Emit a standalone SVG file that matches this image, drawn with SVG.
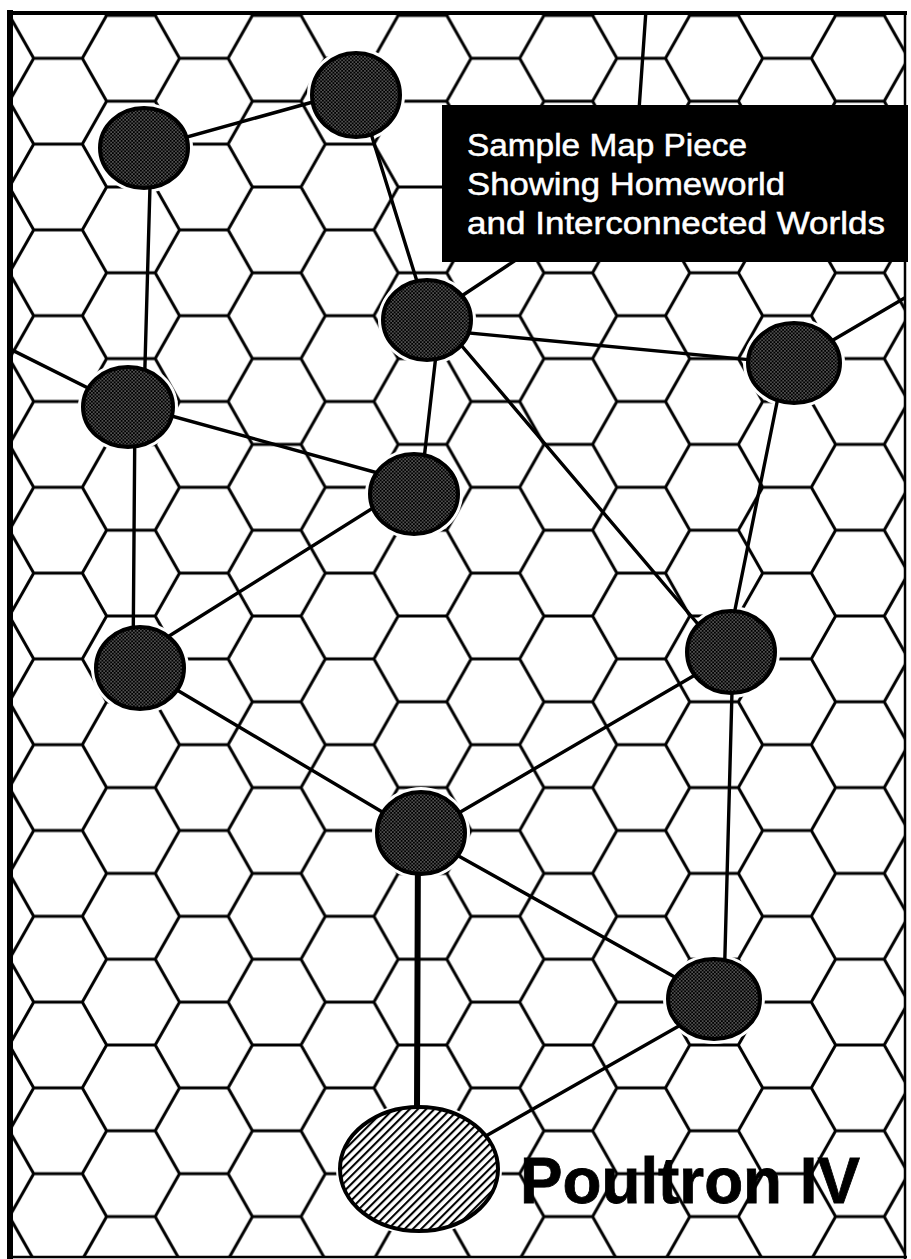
<svg xmlns="http://www.w3.org/2000/svg" width="911" height="1259" viewBox="0 0 911 1259">
<style>
.hex{fill:none;stroke:#000;stroke-width:3;stroke-linecap:round;stroke-linejoin:round}
.halo{fill:#fff;stroke:none}
.con{stroke:#000;stroke-width:3.4;stroke-linecap:round;fill:none}
.thick{stroke-width:6}
.node{fill:url(#stip);stroke:#000;stroke-width:4}
.title{font-family:"Liberation Sans",Arial,sans-serif;font-size:31px;fill:#fff;stroke:#fff;stroke-width:0.5}
.label{font-family:"Liberation Sans",Arial,sans-serif;font-size:65px;font-weight:bold;fill:#000;stroke:#000;stroke-width:0.8}
</style>
<defs>
<pattern id="hexgrid" patternUnits="userSpaceOnUse" x="58" y="15.4" width="145.8" height="85.8">
<path class="hex" d="M-24.3,42.9H24.3 M121.5,42.9H170.1 M24.3,42.9L48.6,85.8 M24.3,-42.9L48.6,0 M48.6,0L24.3,42.9 M48.6,85.8L24.3,128.7 M48.6,0H97.2 M48.6,85.8H97.2 M97.2,0L121.5,42.9 M97.2,85.8L121.5,128.7 M121.5,42.9L97.2,85.8 M121.5,-42.9L97.2,0"/>
</pattern>
<pattern id="stip" patternUnits="userSpaceOnUse" width="3.5" height="3.5">
<rect width="3.5" height="3.5" fill="#000"/>
<circle cx="0.9" cy="0.9" r="0.65" fill="#ccc"/>
<circle cx="2.65" cy="2.65" r="0.65" fill="#ccc"/>
</pattern>
<pattern id="hatch" patternUnits="userSpaceOnUse" width="5.8" height="10" patternTransform="rotate(45)">
<rect width="5.8" height="10" fill="#fff"/>
<line x1="1" y1="0" x2="1" y2="10" stroke="#000" stroke-width="2.2"/>
</pattern>
<clipPath id="frame"><rect x="10" y="13" width="895" height="1244"/></clipPath>
</defs>
<rect width="911" height="1259" fill="#fff"/>
<g id="grid" clip-path="url(#frame)">
<rect x="10" y="13" width="895" height="1244" fill="url(#hexgrid)"/>
<g id="halos">
<ellipse class="halo" cx="144" cy="148" rx="49" ry="45"/>
<ellipse class="halo" cx="356" cy="95" rx="49" ry="47"/>
<ellipse class="halo" cx="427" cy="320" rx="49" ry="45"/>
<ellipse class="halo" cx="794" cy="363" rx="51" ry="45"/>
<ellipse class="halo" cx="128" cy="407" rx="50" ry="45"/>
<ellipse class="halo" cx="414" cy="494" rx="49" ry="45"/>
<ellipse class="halo" cx="140" cy="668" rx="49" ry="46"/>
<ellipse class="halo" cx="731" cy="652" rx="49" ry="46"/>
<ellipse class="halo" cx="421" cy="833" rx="49" ry="46"/>
<ellipse class="halo" cx="714" cy="999" rx="51" ry="45"/>
<ellipse class="halo" cx="419" cy="1169" rx="83" ry="66"/>
</g>
<g id="connectors">
<line class="con" x1="144" y1="149" x2="356" y2="90"/>
<line class="con" x1="359" y1="95" x2="429" y2="320"/>
<line class="con" x1="151" y1="150" x2="144" y2="400"/>
<line class="con" x1="427" y1="319" x2="540" y2="244"/>
<line class="con" x1="646" y1="10" x2="639" y2="110"/>
<line class="con" x1="427" y1="329" x2="794" y2="364"/>
<line class="con" x1="794" y1="363" x2="908" y2="296"/>
<line class="con" x1="8" y1="348" x2="128" y2="408"/>
<line class="con" x1="128" y1="404" x2="414" y2="483"/>
<line class="con" x1="135" y1="407" x2="133" y2="668"/>
<line class="con" x1="440" y1="320" x2="420" y2="494"/>
<line class="con" x1="427" y1="305" x2="731" y2="663"/>
<line class="con" x1="785" y1="363" x2="726" y2="654"/>
<line class="con" x1="400" y1="491" x2="150" y2="648"/>
<line class="con" x1="140" y1="668" x2="421" y2="835"/>
<line class="con" x1="731" y1="654" x2="421" y2="835"/>
<line class="con" x1="733" y1="654" x2="724" y2="990"/>
<line class="con" x1="421" y1="835" x2="714" y2="999"/>
<line class="con thick" x1="418" y1="835" x2="417" y2="1110"/>
<line class="con" x1="714" y1="1006" x2="419" y2="1174"/>
</g>
</g>
<g id="n1"><ellipse class="node" cx="144" cy="148" rx="44" ry="40"/></g>
<g id="n2"><ellipse class="node" cx="356" cy="95" rx="44" ry="42"/></g>
<g id="n3"><ellipse class="node" cx="427" cy="320" rx="44" ry="40"/></g>
<g id="n4"><ellipse class="node" cx="794" cy="363" rx="46" ry="40"/></g>
<g id="n5"><ellipse class="node" cx="128" cy="407" rx="45" ry="40"/></g>
<g id="n6"><ellipse class="node" cx="414" cy="494" rx="44" ry="40"/></g>
<g id="n7"><ellipse class="node" cx="140" cy="668" rx="44" ry="41"/></g>
<g id="n8"><ellipse class="node" cx="731" cy="652" rx="44" ry="41"/></g>
<g id="n9"><ellipse class="node" cx="421" cy="833" rx="44" ry="41"/></g>
<g id="n10"><ellipse class="node" cx="714" cy="999" rx="46" ry="40"/></g>
<g id="home"><ellipse cx="419" cy="1169" rx="79" ry="62" fill="url(#hatch)" stroke="#000" stroke-width="4"/></g>
<g id="titlebox">
<rect x="442" y="105" width="466" height="157" fill="#000"/>
<text class="title" x="467" y="156" textLength="280" lengthAdjust="spacingAndGlyphs">Sample Map Piece</text>
<text class="title" x="467" y="195" textLength="318" lengthAdjust="spacingAndGlyphs">Showing Homeworld</text>
<text class="title" x="467" y="234" textLength="418" lengthAdjust="spacingAndGlyphs">and Interconnected Worlds</text>
</g>
<g id="label"><text class="label" x="520" y="1203" textLength="340" lengthAdjust="spacingAndGlyphs">Poultron IV</text></g>
<g id="border">
<line x1="10" y1="10" x2="10" y2="1259" stroke="#000" stroke-width="6"/>
<line x1="7" y1="13" x2="907" y2="13" stroke="#000" stroke-width="4"/>
<line x1="905" y1="11" x2="905" y2="1259" stroke="#000" stroke-width="2.5"/>
<line x1="7" y1="1257" x2="907" y2="1257" stroke="#000" stroke-width="2.5"/>
</g>
</svg>
